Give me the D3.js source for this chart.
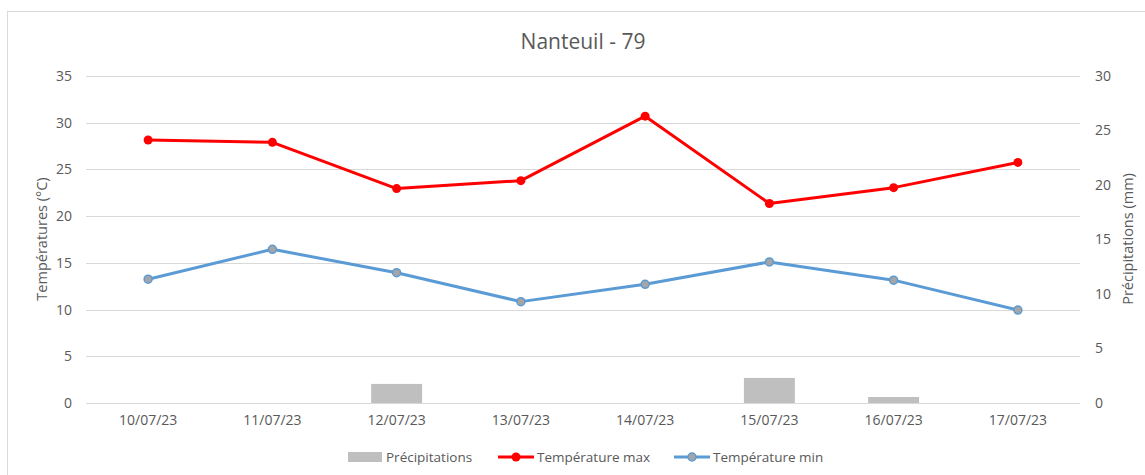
<!DOCTYPE html>
<html>
<head>
<meta charset="utf-8">
<script src="https://cdn.jsdelivr.net/npm/d3@7"></script>
<style>
  body { margin: 0; background: #fff; }
  text { font-family: "Open Sans", "Noto Sans", sans-serif; fill: #595959; }
</style>
</head>
<body>
<div id="chart"></div>
<script>
// data
var dates = ["10/07/23", "11/07/23", "12/07/23", "13/07/23", "14/07/23", "15/07/23", "16/07/23", "17/07/23"];
var tempMax = [28.15, 27.9, 22.95, 23.8, 30.7, 21.35, 23.05, 25.75];
var tempMin = [13.25, 16.45, 13.95, 10.85, 12.7, 15.1, 13.15, 9.95];
var precip = [0, 0, 1.75, 0, 0, 2.3, 0.55, 0];
var leftTicks = [0, 5, 10, 15, 20, 25, 30, 35];
var rightTicks = [0, 5, 10, 15, 20, 25, 30];

const W = 1145, H = 475;
const margins = { top: 76, right: 65, bottom: 72, left: 86 };
const graphWidth = W - margins.left - margins.right;
const graphHeight = H - margins.top - margins.bottom;

const svg = d3.select("#chart").append("svg")
  .attr("width", W)
  .attr("height", H);

// chart frame
svg.append("rect")
  .attr("x", 7.5).attr("y", 11.5)
  .attr("width", W + 10).attr("height", H + 10)
  .attr("fill", "#fff")
  .attr("stroke", "#d9d9d9");

svg.append("text")
  .attr("x", 583).attr("y", 49)
  .attr("text-anchor", "middle")
  .attr("font-size", "21px")
  .text("Nanteuil - 79");

const graph = svg.append("g")
  .attr("transform", `translate(${margins.left},${margins.top})`);

// scales
const x = d3.scaleBand().domain(dates).range([0, graphWidth]);
const yL = d3.scaleLinear().domain([0, 35]).range([graphHeight, 0]);
const yR = d3.scaleLinear().domain([0, 30]).range([graphHeight, 0]);

// gridlines
graph.selectAll(".grid").data(leftTicks).enter()
  .append("line")
  .attr("class", "grid")
  .attr("x1", 0).attr("x2", graphWidth)
  .attr("y1", d => Math.round(yL(d)) + 0.5)
  .attr("y2", d => Math.round(yL(d)) + 0.5)
  .attr("stroke", "#d9d9d9")
  .attr("stroke-width", 1);

// left axis
const yAxisL = d3.axisLeft(yL).tickValues(leftTicks).tickSize(0).tickPadding(14);
graph.append("g").call(yAxisL)
  .call(g => g.select(".domain").remove())
  .selectAll("text").attr("font-size", "14px").attr("fill", "#595959");

// right axis
const yAxisR = d3.axisRight(yR).tickValues(rightTicks).tickSize(0).tickPadding(15);
graph.append("g").attr("transform", `translate(${graphWidth},0)`).call(yAxisR)
  .call(g => g.select(".domain").remove())
  .selectAll("text").attr("font-size", "14px").attr("fill", "#595959");

// x axis
const xAxis = d3.axisBottom(x).tickSize(0).tickPadding(12);
graph.append("g").attr("transform", `translate(0,${graphHeight})`).call(xAxis)
  .call(g => g.select(".domain").remove())
  .selectAll("text").attr("font-size", "14px").attr("fill", "#595959");

// axis titles
svg.append("text")
  .attr("transform", "translate(47,239) rotate(-90)")
  .attr("text-anchor", "middle")
  .attr("font-size", "14.5px")
  .text("Températures (°C)");

svg.append("text")
  .attr("transform", "translate(1133,239) rotate(-90)")
  .attr("text-anchor", "middle")
  .attr("font-size", "14.5px")
  .text("Précipitations (mm)");

// bars
const barW = x.bandwidth() * 0.41;
graph.selectAll(".bar").data(precip).enter()
  .append("rect")
  .attr("class", "bar")
  .attr("x", (d, i) => x(dates[i]) + x.bandwidth() / 2 - barW / 2)
  .attr("y", d => yR(d))
  .attr("width", barW)
  .attr("height", d => graphHeight - yR(d))
  .attr("fill", "#bfbfbf");

// lines
const line = d3.line()
  .x((d, i) => x(dates[i]) + x.bandwidth() / 2)
  .y(d => yL(d));

graph.append("path").datum(tempMin)
  .attr("d", line).attr("fill", "none")
  .attr("stroke", "#5b9bd5").attr("stroke-width", 3)
  .attr("stroke-linejoin", "round");

graph.selectAll(".ptmin").data(tempMin).enter()
  .append("circle")
  .attr("class", "ptmin")
  .attr("cx", (d, i) => x(dates[i]) + x.bandwidth() / 2)
  .attr("cy", d => yL(d))
  .attr("r", 4)
  .attr("fill", "#a5a5a5")
  .attr("stroke", "#5b9bd5").attr("stroke-width", 1.5);

graph.append("path").datum(tempMax)
  .attr("d", line).attr("fill", "none")
  .attr("stroke", "#ff0000").attr("stroke-width", 3)
  .attr("stroke-linejoin", "round");

graph.selectAll(".ptmax").data(tempMax).enter()
  .append("circle")
  .attr("class", "ptmax")
  .attr("cx", (d, i) => x(dates[i]) + x.bandwidth() / 2)
  .attr("cy", d => yL(d))
  .attr("r", 4.5)
  .attr("fill", "#ff0000");

// legend
const legend = svg.append("g").attr("transform", "translate(0,457)");

legend.append("rect")
  .attr("x", 348).attr("y", -5).attr("width", 34).attr("height", 10)
  .attr("fill", "#bfbfbf");
legend.append("text").attr("x", 386).attr("y", 5)
  .attr("font-size", "13.5px").text("Précipitations");

legend.append("line")
  .attr("x1", 498).attr("x2", 534).attr("y1", 0).attr("y2", 0)
  .attr("stroke", "#ff0000").attr("stroke-width", 3);
legend.append("circle").attr("cx", 516).attr("cy", 0).attr("r", 4.5)
  .attr("fill", "#ff0000");
legend.append("text").attr("x", 537).attr("y", 5)
  .attr("font-size", "13.5px").text("Température max");

legend.append("line")
  .attr("x1", 674).attr("x2", 710).attr("y1", 0).attr("y2", 0)
  .attr("stroke", "#5b9bd5").attr("stroke-width", 3);
legend.append("circle").attr("cx", 692).attr("cy", 0).attr("r", 4)
  .attr("fill", "#a5a5a5").attr("stroke", "#5b9bd5").attr("stroke-width", 1.5);
legend.append("text").attr("x", 713).attr("y", 5)
  .attr("font-size", "13.5px").text("Température min");
</script>
</body>
</html>
